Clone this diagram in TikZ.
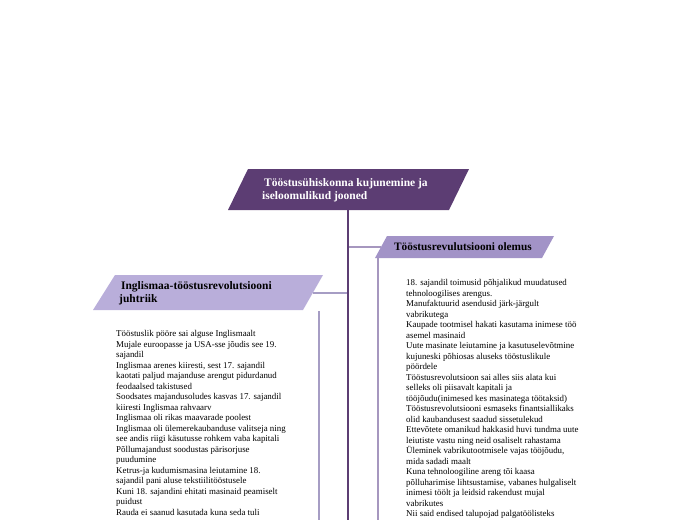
\documentclass[tikz,border=0pt]{standalone}
\usepackage{fontspec}
\setmainfont{Liberation Serif}
\definecolor{dkpurple}{HTML}{5C3D73}
\definecolor{midlav}{HTML}{A293C7}
\definecolor{ltlav}{HTML}{B9AEDA}
\definecolor{linelav}{HTML}{A697BF}
\tikzset{
  bodytext/.style={anchor=north west, align=left, inner sep=0pt, font=\fontsize{8.9}{10.5}\selectfont, text=black},
  headtext/.style={anchor=west, align=left, inner sep=0pt, font=\fontsize{11.5}{13}\selectfont\bfseries},
  mainline/.style={draw=dkpurple, line width=2pt},
  subline/.style={draw=linelav, line width=1.4pt},
}
\begin{document}
\begin{tikzpicture}[x=1pt,y=-1pt]
\useasboundingbox (0,0) rectangle (696,520);
% title
\fill[dkpurple] (248,169) -- (469,169) -- (449,210) -- (228,210) -- cycle;
\node[headtext, text=white] (title) at (262,190.5) {\,Tööstusühiskonna kujunemine ja\\iseloomulikud jooned};
\coordinate (tb) at (348,210);
\coordinate (mainend) at (348,520);
% right branch
\fill[midlav] (387,236) -- (554,236) -- (542,258) -- (375,258) -- cycle;
\node[headtext, font=\fontsize{11.3}{13}\selectfont\bfseries] (right) at (394,246.5) {Tööstusrevulutsiooni olemus};
\coordinate (rj) at (349,247);
\coordinate (rin) at (381,247);
\coordinate (rtop) at (378,258);
\coordinate (rend) at (378,520);
% left branch
\fill[ltlav] (115,275) -- (323,275) -- (303,310) -- (93,310) -- cycle;
\node[headtext] (left) at (119,293.5) {\,Inglismaa-tööstusrevolutsiooni\\juhtriik};
\coordinate (lj) at (347,293);
\coordinate (lin) at (313,293);
\coordinate (ltop) at (319,311);
\coordinate (lend) at (319,520);
% connectors
\draw[subline] (rj) -- (rin);
\draw[subline] (rtop) -- (rend);
\draw[subline, draw=ltlav!90!black] (lin) -- (lj);
\draw[subline, draw=ltlav!90!black] (ltop) -- (lend);
\draw[mainline] (tb) -- (mainend);
% texts
\node[bodytext] (ltext) at (116,330.5) {Tööstuslik pööre sai alguse Inglismaalt\\
Mujale euroopasse ja USA-sse jõudis see 19.\\
sajandil\\
Inglismaa arenes kiiresti, sest 17. sajandil\\
kaotati paljud majanduse arengut pidurdanud\\
feodaalsed takistused\\
Soodsates majandusoludes kasvas 17. sajandil\\
kiiresti Inglismaa rahvaarv\\
Inglismaa oli rikas maavarade poolest\\
Inglismaa oli ülemerekaubanduse valitseja ning\\
see andis riigi käsutusse rohkem vaba kapitali\\
Põllumajandust soodustas pärisorjuse\\
puudumine\\
Ketrus-ja kudumismasina leiutamine 18.\\
sajandil pani aluse tekstiilitööstusele\\
Kuni 18. sajandini ehitati masinaid peamiselt\\
puidust\\
Rauda ei saanud kasutada kuna seda tuli};
\node[bodytext] (rtext) at (406,279.5) {18. sajandil toimusid põhjalikud muudatused\\
tehnoloogilises arengus.\\
Manufaktuurid asendusid järk-järgult\\
vabrikutega\\
Kaupade tootmisel hakati kasutama inimese töö\\
asemel masinaid\\
Uute masinate leiutamine ja kasutuselevõtmine\\
kujuneski põhiosas aluseks tööstuslikule\\
pöördele\\
Tööstusrevolutsioon sai alles siis alata kui\\
selleks oli piisavalt kapitali ja\\
tööjõudu(inimesed kes masinatega töötaksid)\\
Tööstusrevolutsiooni esmaseks finantsiallikaks\\
olid kaubandusest saadud sissetulekud\\
Ettevõtete omanikud hakkasid huvi tundma uute\\
leiutiste vastu ning neid osaliselt rahastama\\
Üleminek vabrikutootmisele vajas tööjõudu,\\
mida sadadi maalt\\
Kuna tehnoloogiline areng tõi kaasa\\
põlluharimise lihtsustamise, vabanes hulgaliselt\\
inimesi töölt ja leidsid rakendust mujal\\
vabrikutes\\
Nii said endised talupojad palgatöölisteks};
\end{tikzpicture}
\end{document}
